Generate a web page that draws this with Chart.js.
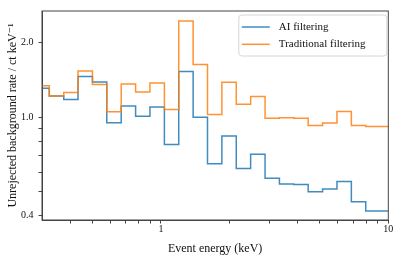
<!DOCTYPE html>
<html>
<head>
<meta charset="utf-8">
<script src="https://cdn.jsdelivr.net/npm/chart.js@4"></script>
<style>
  html, body { margin: 0; padding: 0; background: #fff; }
  #wrap { width: 399px; height: 256px; }
</style>
</head>
<body>
<div id="wrap"><canvas id="bgChart" width="399" height="256"></canvas></div>
<script>
// bin edges in keV (first edge clipped at the axis limit)
const binEdges = [0.3, 0.323, 0.374, 0.432, 0.5, 0.578, 0.669, 0.774, 0.895, 1.036, 1.198, 1.386,
    1.603, 1.854, 2.145, 2.481, 2.871, 3.321, 3.842, 4.443, 5.14, 5.946, 6.879, 7.957, 10];

// background rate per bin, ct/keV
const aiRate = [1.31, 1.22, 1.18, 1.46, 1.39, 0.95, 1.11, 1.01, 1.10, 0.776, 1.53, 1.00,
    0.648, 0.839, 0.621, 0.709, 0.566, 0.537, 0.534, 0.50, 0.513, 0.549, 0.455, 0.418];
const tradRate = [1.34, 1.22, 1.26, 1.54, 1.355, 1.052, 1.364, 1.265, 1.376, 1.075, 2.45, 1.635,
    1.027, 1.385, 1.128, 1.212, 0.991, 0.996, 0.991, 0.927, 0.947, 1.056, 0.927, 0.918];

const xTicks = [0.4, 0.5, 0.6, 0.7, 0.8, 0.9, 1, 2, 3, 4, 5, 6, 7, 8, 9, 10];
const xLabels = { 1: '1', 10: '10' };
const yTicks = [0.4, 0.5, 0.6, 0.7, 0.8, 0.9, 1, 2];
const yLabels = { 0.4: '0.4', 1: '1.0', 2: '2.0' };

const serif = "'Liberation Serif', 'DejaVu Serif', serif";

// step points: value holds until the next edge, last value repeated at the right edge
function stepPoints(rates) {
    const pts = rates.map((v, i) => ({ x: binEdges[i], y: v }));
    pts.push({ x: binEdges[binEdges.length - 1], y: rates[rates.length - 1] });
    return pts;
}

// box around the axes, like matplotlib spines
const framePlugin = {
    id: 'frame',
    afterDraw(chart) {
        const { ctx, chartArea: a } = chart;
        ctx.save();
        ctx.strokeStyle = '#444';
        ctx.lineWidth = 1;
        ctx.strokeRect(a.left, a.top, a.right - a.left, a.bottom - a.top);
        ctx.restore();
    }
};

// legend drawn inside the plot, upper right
const insideLegend = {
    id: 'insideLegend',
    afterDraw(chart) {
        const { ctx, chartArea: a } = chart;
        const w = 148, h = 41;
        const x0 = a.right - 1.5 - w, y0 = a.top + 4;
        ctx.save();
        ctx.beginPath();
        ctx.roundRect(x0, y0, w, h, 3);
        ctx.fillStyle = 'rgba(255,255,255,0.8)';
        ctx.fill();
        ctx.strokeStyle = '#d6d6d6';
        ctx.lineWidth = 1;
        ctx.stroke();
        ctx.font = '11px ' + serif;
        ctx.textBaseline = 'middle';
        ctx.fillStyle = '#111';
        chart.data.datasets.forEach((ds, i) => {
            const y = y0 + 12 + i * 17.3;
            ctx.strokeStyle = ds.borderColor;
            ctx.lineWidth = 1.5;
            ctx.beginPath();
            ctx.moveTo(x0 + 3, y);
            ctx.lineTo(x0 + 31, y);
            ctx.stroke();
            ctx.fillText(ds.label, x0 + 40, y);
        });
        ctx.restore();
    }
};

const ctx = document.getElementById('bgChart').getContext('2d');
const bgChart = new Chart(ctx, {
    type: 'line',
    data: {
        datasets: [
            {
                label: 'AI filtering',
                data: stepPoints(aiRate),
                borderColor: 'rgba(31,119,180,0.85)',
                borderWidth: 1.5,
                stepped: 'before',
                pointRadius: 0,
                fill: false,
                order: 1
            },
            {
                label: 'Traditional filtering',
                data: stepPoints(tradRate),
                borderColor: 'rgba(255,127,14,0.85)',
                borderWidth: 1.5,
                stepped: 'before',
                pointRadius: 0,
                fill: false,
                order: 0
            }
        ]
    },
    options: {
        responsive: false,
        animation: false,
        parsing: false,
        layout: { padding: { left: 0, top: 5, right: 10.7, bottom: 0 } },
        plugins: {
            legend: { display: false },
            tooltip: { enabled: false }
        },
        scales: {
            x: {
                type: 'logarithmic',
                min: 0.3,
                max: 10,
                afterBuildTicks: (s) => { s.ticks = xTicks.map(v => ({ value: v })); },
                afterFit: (s) => { s.height = 36; },
                grid: { drawOnChartArea: false, drawTicks: true, tickLength: 3.5, color: '#444' },
                border: { color: '#444', width: 1 },
                ticks: {
                    autoSkip: false,
                    maxRotation: 0,
                    padding: 0,
                    color: '#111',
                    font: { family: serif, size: 10 },
                    callback: (v) => xLabels[v] || ''
                },
                title: {
                    display: true,
                    text: 'Event energy (keV)',
                    color: '#111',
                    font: { family: serif, size: 12 },
                    padding: { top: 4, bottom: 0 }
                }
            },
            y: {
                type: 'logarithmic',
                min: 0.384,
                max: 2.69,
                afterBuildTicks: (s) => { s.ticks = yTicks.map(v => ({ value: v })); },
                afterFit: (s) => { s.width = 42; },
                grid: { drawOnChartArea: false, drawTicks: true, tickLength: 3.5, color: '#444' },
                border: { color: '#444', width: 1 },
                ticks: {
                    autoSkip: false,
                    padding: 5,
                    color: '#111',
                    font: { family: serif, size: 10 },
                    callback: (v) => yLabels[v] || ''
                },
                title: {
                    display: true,
                    text: 'Unrejected background rate / ct keV\u207B\u00B9',
                    color: '#111',
                    font: { family: serif, size: 12 },
                    padding: { top: 6, bottom: 0 }
                }
            }
        }
    },
    plugins: [framePlugin, insideLegend]
});
</script>
</body>
</html>
